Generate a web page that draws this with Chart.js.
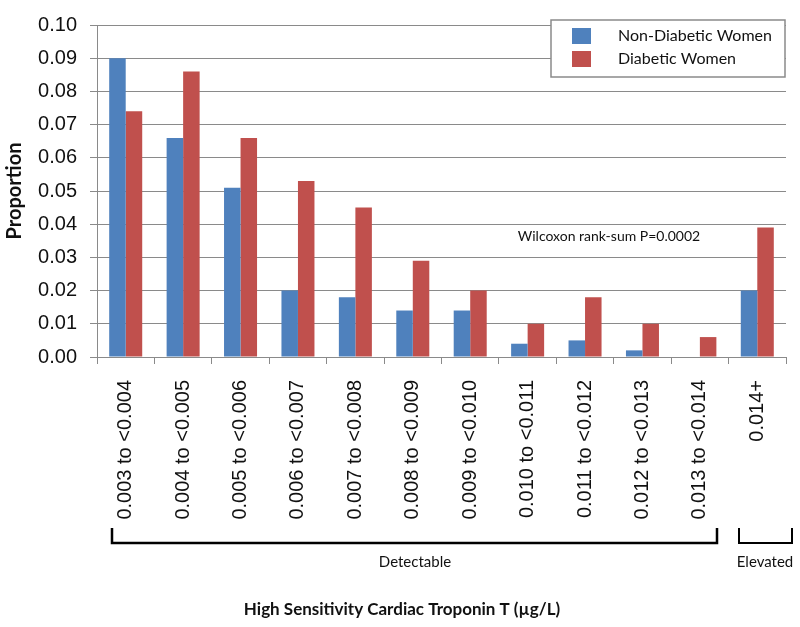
<!DOCTYPE html>
<html>
<head>
<meta charset="utf-8">
<script src="https://cdn.jsdelivr.net/npm/chart.js@4.4.1/dist/chart.umd.min.js"></script>
<style>
html, body { margin: 0; padding: 0; background: #fff; }
</style>
</head>
<body>
<canvas id="chartCanvas" width="800" height="627"></canvas>
<script>
// Chart data

var categories = ['0.003 to <0.004', '0.004 to <0.005', '0.005 to <0.006', '0.006 to <0.007',
    '0.007 to <0.008', '0.008 to <0.009', '0.009 to <0.010', '0.010 to <0.011',
    '0.011 to <0.012', '0.012 to <0.013', '0.013 to <0.014', '0.014+']
var nonDiabetic = [0.090, 0.066, 0.051, 0.020, 0.018, 0.014, 0.014, 0.004, 0.005, 0.002, 0, 0.020]
var diabetic = [0.074, 0.086, 0.066, 0.053, 0.045, 0.029, 0.020, 0.010, 0.018, 0.010, 0.006, 0.039]
var seriesNames = ['Non-Diabetic Women', 'Diabetic Women']
var yMin = 0
var yMax = 0.10
var yStep = 0.01
var groupNames = ['Detectable', 'Elevated']
var xTitle = 'High Sensitivity Cardiac Troponin T (\u00b5g/L)'
var yTitle = 'Proportion'
var noteText = 'Wilcoxon rank-sum P=0.0002'

var calibriLike = 'Lato, "Open Sans", sans-serif'
var arialLike = '"Liberation Sans", Arial, sans-serif'
var gridGrey = '#8a8a8a'

// legend, note, brackets and axis title drawn on top
var overlay = {
    id: 'overlay',
    afterDraw: function(chart) {
        var ctx = chart.ctx
        ctx.save()

        // legend box
        ctx.fillStyle = '#fff'
        ctx.fillRect(551, 20, 234, 57)
        ctx.strokeStyle = gridGrey
        ctx.lineWidth = 1.5
        ctx.strokeRect(551, 20, 234, 57)
        chart.data.datasets.forEach(function(ds, i) {
            var y = 28 + i * 23
            ctx.fillStyle = ds.backgroundColor
            ctx.fillRect(572, y, 19, 16)
            ctx.fillStyle = '#111'
            ctx.font = '16px ' + calibriLike
            ctx.textBaseline = 'middle'
            ctx.textAlign = 'left'
            ctx.fillText(ds.label, 618, y + 8)
        })

        // note
        ctx.fillStyle = '#111'
        ctx.font = '14px ' + calibriLike
        ctx.textAlign = 'center'
        ctx.fillText(noteText, 609, 236)

        // brackets under the category labels
        ctx.strokeStyle = '#000'
        ctx.lineWidth = 2.5
        ctx.beginPath()
        ctx.moveTo(112, 528); ctx.lineTo(112, 543); ctx.lineTo(717, 543); ctx.lineTo(717, 528)
        ctx.stroke()
        ctx.lineWidth = 2
        ctx.beginPath()
        ctx.moveTo(739, 528); ctx.lineTo(739, 543); ctx.lineTo(792, 543); ctx.lineTo(792, 528)
        ctx.stroke()
        ctx.font = '15px ' + calibriLike
        ctx.fillText(groupNames[0], 415, 562)
        ctx.fillText(groupNames[1], 765, 562)

        // x axis title
        ctx.font = 'bold 17px ' + calibriLike
        ctx.fillText(xTitle, 402, 610)
        ctx.restore()
    }
}

var ctx = document.getElementById('chartCanvas').getContext('2d')
var myChart = new Chart(ctx, {
    type: 'bar',
    data: {
        labels: categories,
        datasets: [{
            label: seriesNames[0],
            data: nonDiabetic,
            backgroundColor: '#4F81BD'
        }, {
            label: seriesNames[1],
            data: diabetic,
            backgroundColor: '#C0504D'
        }]
    },
    options: {
        responsive: false,
        animation: false,
        devicePixelRatio: 1,
        layout: { padding: { top: 16, right: 14, bottom: 0, left: 0 } },
        datasets: { bar: { categoryPercentage: 0.575, barPercentage: 1.0 } },
        plugins: {
            legend: { display: false },
            tooltip: { enabled: false }
        },
        scales: {
            x: {
                afterFit: function(s) { s.height = 270 },
                grid: { drawOnChartArea: false, drawTicks: true, tickLength: 7, color: gridGrey },
                border: { color: gridGrey, width: 1 },
                ticks: {
                    autoSkip: false, minRotation: 90, maxRotation: 90, padding: 16,
                    color: '#111', font: { family: arialLike, size: 20 }
                }
            },
            y: {
                min: yMin,
                max: yMax,
                afterFit: function(s) { s.width = 97 },
                grid: { color: gridGrey, tickLength: 7 },
                border: { color: gridGrey, width: 1 },
                ticks: {
                    stepSize: yStep, padding: 13, color: '#111',
                    font: { family: arialLike, size: 20 },
                    callback: function(v) { return v.toFixed(2) }
                },
                title: {
                    display: true, text: yTitle, color: '#111',
                    padding: { top: 3, bottom: 0 },
                    font: { family: calibriLike, size: 20, weight: 'bold' }
                }
            }
        }
    },
    plugins: [overlay]
})
</script>
</body>
</html>
